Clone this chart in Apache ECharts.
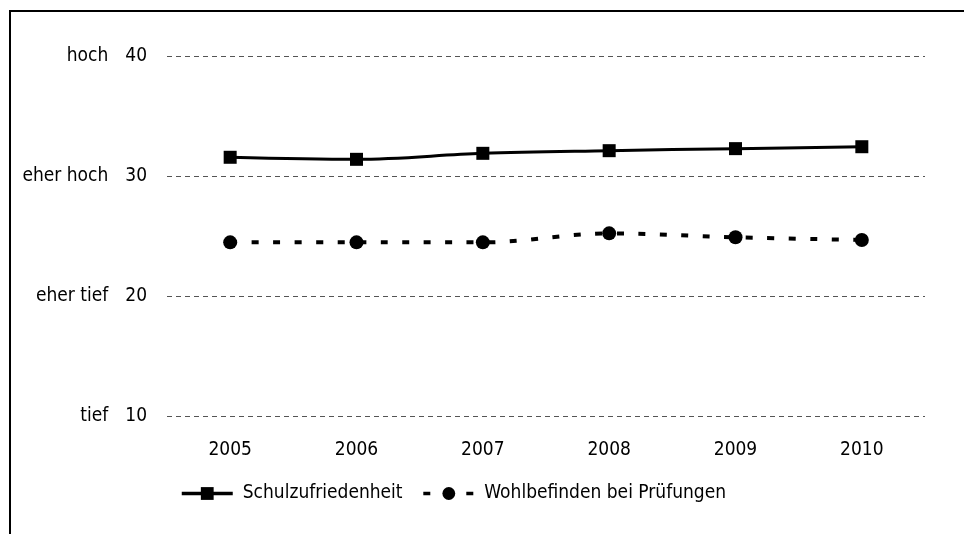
<!DOCTYPE html>
<html>
<head>
<meta charset="utf-8">
<script src="https://cdn.jsdelivr.net/npm/echarts@6/dist/echarts.min.js"></script>
<style>
html,body{margin:0;padding:0;background:#fff;}
#c{width:964px;height:534px;}
</style>
</head>
<body>
<div id="c"></div>
<script>
const years = ['2005','2006','2007','2008','2009','2010'];
const schulzufriedenheit = [31.56, 31.39, 31.89, 32.11, 32.28, 32.44];
const wohlbefinden = [24.47, 24.47, 24.47, 25.22, 24.89, 24.67];
const yTicks = [10, 20, 30, 40];
const yTickNames = {10: 'tief', 20: 'eher tief', 30: 'eher hoch', 40: 'hoch'};
const seriesNames = ['Schulzufriedenheit', 'Wohlbefinden bei Prüfungen'];

const FONT = '"Liberation Sans Narrow", "DejaVu Sans Condensed", "Open Sans", sans-serif';
const FS = 19;
const chart = echarts.init(document.getElementById('c'), null, {renderer: 'canvas'});
chart.setOption({
  backgroundColor: '#fff',
  animation: false,
  textStyle: {fontFamily: FONT},
  graphic: [{
    type: 'rect', shape: {x: 10, y: 11, width: 1200, height: 1200},
    style: {fill: 'none', stroke: '#000', lineWidth: 2}, silent: true
  }],
  grid: {left: 167, right: 39, top: 56, bottom: 118, containLabel: false},
  legend: {
    left: 180, top: 484, padding: 0,
    itemWidth: 51, itemHeight: 16, itemGap: 19,
    lineStyle: {width: 3.5},
    textStyle: {fontFamily: FONT, fontSize: FS, color: '#000', padding: [0, 0, 0, 5]},
    data: seriesNames
  },
  xAxis: {
    type: 'category', data: years, boundaryGap: true,
    axisLine: {show: false}, axisTick: {show: false},
    axisLabel: {fontFamily: FONT, fontSize: FS, color: '#000', margin: 25}
  },
  yAxis: {
    type: 'value', min: 10, max: 40, interval: 10,
    axisLine: {show: false}, axisTick: {show: false},
    splitLine: {show: true, lineStyle: {color: '#555', width: 1, type: [5, 4]}},
    axisLabel: {
      margin: 20, color: '#000', fontFamily: FONT, fontSize: FS,
      formatter: v => '{t|' + (yTickNames[v] || '') + '}{n|' + v + '}',
      rich: {
        t: {fontFamily: FONT, fontSize: FS, color: '#000'},
        n: {fontFamily: FONT, fontSize: FS, color: '#000', padding: [0, 0, 0, 17]}
      }
    }
  },
  series: [
    {
      name: seriesNames[0], type: 'line', data: schulzufriedenheit, smooth: 0.35,
      symbol: 'rect', symbolSize: 13,
      lineStyle: {color: '#000', width: 3},
      itemStyle: {color: '#000'}
    },
    {
      name: seriesNames[1], type: 'line', data: wohlbefinden, smooth: 0.35,
      symbol: 'circle', symbolSize: 14,
      lineStyle: {color: '#000', width: 4, type: [7, 14.5]},
      itemStyle: {color: '#000'}
    }
  ]
});
</script>
</body>
</html>
